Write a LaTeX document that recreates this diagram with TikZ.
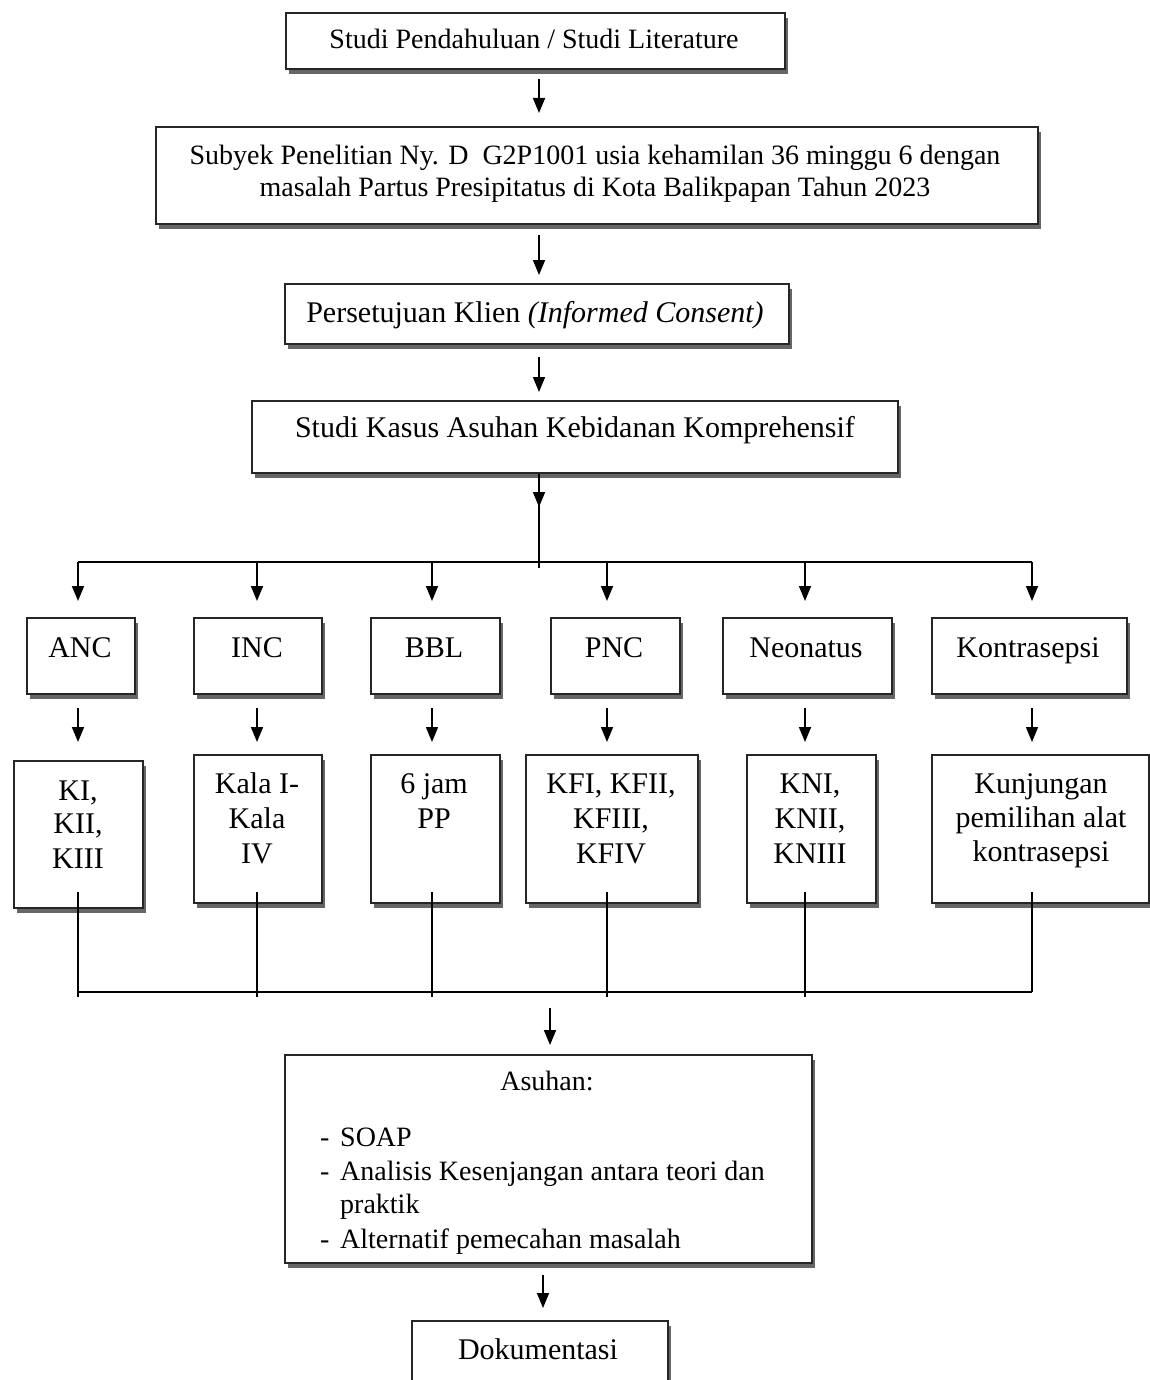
\documentclass[tikz,border=0pt]{standalone}
\usepackage{fontspec}
\setmainfont{Liberation Serif}
\usetikzlibrary{arrows.meta,shadows,calc}
\tikzset{
  box/.style={draw=black!85, line width=1.9pt, fill=white, rectangle, inner sep=0pt, anchor=north west,
    drop shadow={shadow xshift=3.5pt, shadow yshift=-5pt, fill=black!60, opacity=1}},
  tbig/.style={font=\fontsize{30}{36}\selectfont, inner sep=0pt, anchor=base},
  tmid/.style={font=\fontsize{28}{34}\selectfont, inner sep=0pt, anchor=base},
  tleft/.style={font=\fontsize{28}{34}\selectfont, inner sep=0pt, anchor=base west},
  arr/.style={line width=1.7pt, -{Triangle[length=15pt,width=12pt]}},
  ln/.style={line width=1.5pt}
}
\begin{document}
\begin{tikzpicture}[x=1pt,y=-1pt]
\path[use as bounding box, fill=white] (0,0) rectangle (1150,1380);
\clip (0,0) rectangle (1150,1380);

% ---- top chain ----
\node[box, minimum width=499pt, minimum height=56pt] (b1) at (285,12) {};
\node[tmid] (t1) at (534,49) {Studi Pendahuluan / Studi Literature};

\node[box, minimum width=882pt, minimum height=97pt] (b2) at (155,126) {};
\node[tmid] (t2a) at (595,165) {Subyek Penelitian Ny. D\ \ G2P1001 usia kehamilan 36 minggu 6 dengan};
\node[tmid] (t2b) at (595,197) {masalah Partus Presipitatus di Kota Balikpapan Tahun 2023};

\node[box, minimum width=504pt, minimum height=60pt] (b3) at (284,283) {};
\node[tbig] (t3) at (535,322) {Persetujuan Klien \textit{(Informed Consent)}};

\node[box, minimum width=646pt, minimum height=72pt] (b4) at (251,400) {};
\node[tbig] (t4) at (575,437) {Studi Kasus Asuhan Kebidanan Komprehensif};

\coordinate (ax) at (539,0);
\draw[arr, shorten <=9pt, shorten >=13pt] (b1.south -| ax) -- (b2.north -| ax);
\draw[arr, shorten <=10pt, shorten >=8pt] (b2.south -| ax) -- (b3.north -| ax);
\draw[arr, shorten <=12pt, shorten >=8pt] (b3.south -| ax) -- (b4.north -| ax);

% ---- split ----
\coordinate (sp) at (539,562);
\coordinate (spm) at (539,507);
\coordinate (c1) at (78,562);
\coordinate (c2) at (257,562);
\coordinate (c3) at (432,562);
\coordinate (c4) at (607,562);
\coordinate (c5) at (805,562);
\coordinate (c6) at (1032,562);
\draw[ln] (sp |- b4.south) -- ([yshift=-6pt]sp);
\draw[arr] (sp |- b4.south) -- (spm);
\draw[ln] (c1) -- (c6);

% ---- row 1 ----
\node[box, minimum width=108pt, minimum height=76pt] (anc) at (26,617) {};
\node[box, minimum width=128pt, minimum height=76pt] (inc) at (193,617) {};
\node[box, minimum width=129pt, minimum height=76pt] (bbl) at (370,617) {};
\node[box, minimum width=129pt, minimum height=76pt] (pnc) at (550,617) {};
\node[box, minimum width=169pt, minimum height=76pt] (neo) at (722,617) {};
\node[box, minimum width=195pt, minimum height=76pt] (kon) at (931,617) {};
\node[tbig] (tanc) at (80,657) {ANC};
\node[tbig] (tinc) at (257,657) {INC};
\node[tbig] (tbbl) at (434,657) {BBL};
\node[tbig] (tpnc) at (614,657) {PNC};
\node[tbig] (tneo) at (806,657) {Neonatus};
\node[tbig] (tkon) at (1028,657) {Kontrasepsi};

% ---- row 2 ----
\node[box, minimum width=129pt, minimum height=147pt] (ki) at (13,760) {};
\node[box, minimum width=128pt, minimum height=148pt] (kala) at (193,754) {};
\node[box, minimum width=129pt, minimum height=148pt] (jam) at (370,754) {};
\node[box, minimum width=172pt, minimum height=148pt] (kf) at (525,754) {};
\node[box, minimum width=129pt, minimum height=148pt] (kn) at (746,754) {};
\node[box, minimum width=217pt, minimum height=148pt] (kun) at (931,754) {};

\node[tbig] (tki1) at (78,800) {KI,};
\node[tbig] (tki2) at (78,833) {KII,};
\node[tbig] (tki3) at (78,868) {KIII};
\node[tbig] (tka1) at (257,793) {Kala I-};
\node[tbig] (tka2) at (257,828) {Kala};
\node[tbig] (tka3) at (257,863) {IV};
\node[tbig] (tja1) at (434,793) {6 jam};
\node[tbig] (tja2) at (434,828) {PP};
\node[tbig] (tkf1) at (611,793) {KFI, KFII,};
\node[tbig] (tkf2) at (611,828) {KFIII,};
\node[tbig] (tkf3) at (611,863) {KFIV};
\node[tbig] (tkn1) at (810,793) {KNI,};
\node[tbig] (tkn2) at (810,828) {KNII,};
\node[tbig] (tkn3) at (810,863) {KNIII};
\node[tbig] (tku1) at (1041,793) {Kunjungan};
\node[tbig] (tku2) at (1041,827) {pemilihan alat};
\node[tbig] (tku3) at (1041,861) {kontrasepsi};

% arrows bus -> row 1
\draw[arr, shorten >=16pt] (c1) -- (c1 |- anc.north);
\draw[arr, shorten >=16pt] (c2) -- (c2 |- inc.north);
\draw[arr, shorten >=16pt] (c3) -- (c3 |- bbl.north);
\draw[arr, shorten >=16pt] (c4) -- (c4 |- pnc.north);
\draw[arr, shorten >=16pt] (c5) -- (c5 |- neo.north);
\draw[arr, shorten >=16pt] (c6) -- (c6 |- kon.north);

% arrows row 1 -> row 2
\draw[arr, shorten <=13pt, shorten >=18pt] (c1 |- anc.south) -- (c1 |- ki.north);
\draw[arr, shorten <=13pt, shorten >=12pt] (c2 |- inc.south) -- (c2 |- kala.north);
\draw[arr, shorten <=13pt, shorten >=12pt] (c3 |- bbl.south) -- (c3 |- jam.north);
\draw[arr, shorten <=13pt, shorten >=12pt] (c4 |- pnc.south) -- (c4 |- kf.north);
\draw[arr, shorten <=13pt, shorten >=12pt] (c5 |- neo.south) -- (c5 |- kn.north);
\draw[arr, shorten <=13pt, shorten >=12pt] (c6 |- kon.south) -- (c6 |- kun.north);

% ---- bottom bus ----
\coordinate (d1) at (78,992);
\coordinate (d2) at (257,992);
\coordinate (d3) at (432,992);
\coordinate (d4) at (607,992);
\coordinate (d5) at (805,992);
\coordinate (d6) at (1032,992);
\coordinate (e1) at (78,892);
\coordinate (e2) at (257,892);
\coordinate (e3) at (432,892);
\coordinate (e4) at (607,892);
\coordinate (e5) at (805,892);
\coordinate (e6) at (1032,892);
\draw[ln] (e1) -- ([yshift=-5pt]d1);
\draw[ln] (e2) -- ([yshift=-5pt]d2);
\draw[ln] (e3) -- ([yshift=-5pt]d3);
\draw[ln] (e4) -- ([yshift=-5pt]d4);
\draw[ln] (e5) -- ([yshift=-5pt]d5);
\draw[ln] (e6) -- (d6);
\draw[ln] (d1) -- (d6);

% ---- Asuhan ----
\node[box, minimum width=527pt, minimum height=208pt] (asu) at (284,1054) {};
\node[tmid] (tas0) at (547,1090) {Asuhan:};
\node[tleft] (tdash1) at (320,1146) {-};
\node[tleft] (tas1) at (340,1146) {SOAP};
\node[tleft] (tdash2) at (320,1180) {-};
\node[tleft] (tas2) at (340,1180) {Analisis Kesenjangan antara teori dan};
\node[tleft] (tas3) at (340,1213) {praktik};
\node[tleft] (tdash3) at (320,1248) {-};
\node[tleft] (tas4) at (340,1248) {Alternatif pemecahan masalah};

\coordinate (dm) at (550,992);
\draw[arr, shorten <=16pt, shorten >=9pt] (dm) -- (dm |- asu.north);

% ---- Dokumentasi ----
\node[box, minimum width=256pt, minimum height=80pt] (dok) at (411,1320) {};
\node[tbig] (tdok) at (538,1359) {Dokumentasi};

\coordinate (bx) at (543,0);
\draw[arr, shorten <=11pt, shorten >=12pt] (asu.south -| bx) -- (dok.north -| bx);
\end{tikzpicture}
\end{document}
